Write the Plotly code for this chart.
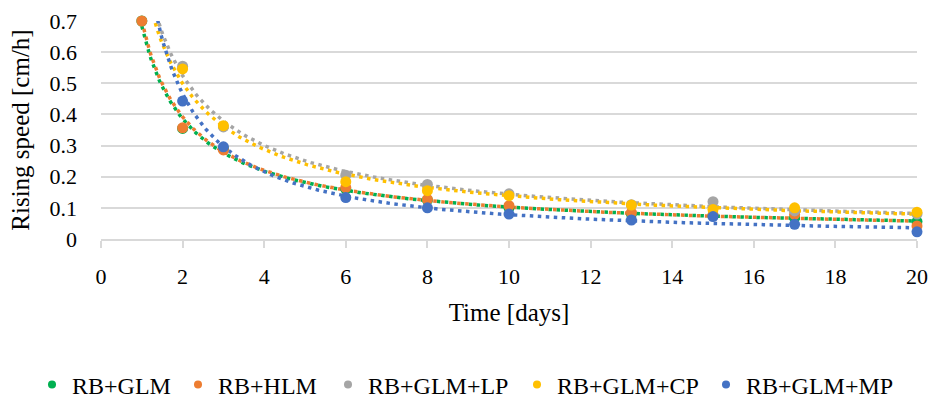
import numpy as np
import plotly.graph_objects as go

days = [1, 2, 3, 6, 8, 10, 13, 15, 17, 20]

series_names = ["RB+GLM", "RB+HLM", "RB+GLM+LP", "RB+GLM+CP", "RB+GLM+MP"]
colors = ["#00B050", "#ED7D31", "#A5A5A5", "#FFC000", "#4472C4"]

rb_glm = [0.70, 0.355, 0.29, 0.160, 0.125, 0.100, 0.080, 0.075, 0.068, 0.056]
rb_hlm = [0.70, 0.357, 0.286, 0.165, 0.127, 0.107, 0.085, 0.077, 0.079, 0.042]
rb_glm_lp = [None, 0.555, 0.360, 0.205, 0.175, 0.145, 0.110, 0.120, 0.090, 0.080]
rb_glm_cp = [None, 0.546, 0.364, 0.184, 0.155, 0.139, 0.109, 0.095, 0.100, 0.086]
rb_glm_mp = [None, 0.443, 0.296, 0.133, 0.100, 0.080, 0.061, 0.072, 0.047, 0.023]

all_series = [rb_glm, rb_hlm, rb_glm_lp, rb_glm_cp, rb_glm_mp]

x_ticks = list(range(0, 21, 2))
y_ticks = [0, 0.1, 0.2, 0.3, 0.4, 0.5, 0.6, 0.7]
y_tick_labels = ["0", "0.1", "0.2", "0.3", "0.4", "0.5", "0.6", "0.7"]

FONT = "Liberation Serif"
W, H = 936, 399
ML, MR, MT, MB = 101, 19, 21, 160
plot_w = W - ML - MR
plot_h = H - MT - MB

fig = go.Figure()

# power trendlines (least squares in log-log space, like a spreadsheet power trendline)
xs_fit = np.linspace(1, 20, 400)
for name, col, vals in zip(series_names, colors, all_series):
    px = np.array([d for d, v in zip(days, vals) if v is not None], float)
    py = np.array([v for v in vals if v is not None], float)
    b, loga = np.polyfit(np.log(px), np.log(py), 1)
    ys = np.exp(loga) * xs_fit ** b
    fig.add_trace(go.Scatter(x=xs_fit, y=ys, mode="lines", showlegend=False,
                             line=dict(color=col, width=3.5, dash="3.5px,4.5px"),
                             hoverinfo="skip"))

for name, col, vals in zip(series_names, colors, all_series):
    fig.add_trace(go.Scatter(x=days, y=vals, mode="markers", name=name, showlegend=False,
                             marker=dict(color=col, size=11), cliponaxis=False))

# one legend box per entry so the row spacing follows the reference
legend_text_px = [72, 218, 368, 557, 746]  # px where each entry's text starts
legend_layout = {}
for i, (name, col) in enumerate(zip(series_names, colors)):
    key = "legend" if i == 0 else f"legend{i + 1}"
    fig.add_trace(go.Scatter(x=[None], y=[None], mode="markers", name=name,
                             legend=key, marker=dict(color=col, size=8)))
    legend_layout[key] = dict(
        orientation="h", x=(legend_text_px[i] - 40 - ML) / plot_w, xanchor="left",
        y=(MT + plot_h - 385) / plot_h, yanchor="middle", font=dict(size=24),
        itemwidth=30, bgcolor="rgba(0,0,0,0)")

fig.update_layout(
    width=W, height=H,
    margin=dict(l=ML, r=MR, t=MT, b=MB, autoexpand=False),
    plot_bgcolor="white", paper_bgcolor="white",
    font=dict(family=FONT, size=21, color="#000000"),
    **legend_layout,
)
fig.update_xaxes(range=[0, 20], tickvals=x_ticks, showgrid=False,
                 showline=True, linecolor="#D9D9D9", linewidth=1.5,
                 ticks="outside", ticklen=7, tickcolor="#D9D9D9", tickwidth=1.5,
                 ticklabelstandoff=10, automargin=False, tickfont=dict(size=22),
                 title=dict(text="Time [days]", standoff=15), zeroline=False)
fig.update_yaxes(range=[0, 0.7], tickvals=y_ticks, ticktext=y_tick_labels,
                 showgrid=True, gridcolor="#D9D9D9", gridwidth=1.5,
                 zeroline=False, showline=False, ticklabelstandoff=23,
                 automargin=False, tickfont=dict(size=22),
                 title=dict(text="Rising speed [cm/h]", standoff=12))

# the page is exactly the figure size, so drop the browser's default body margin
fig.write_html("out.html", config={"displayModeBar": False},
               post_script="document.body.style.margin='0px';")
